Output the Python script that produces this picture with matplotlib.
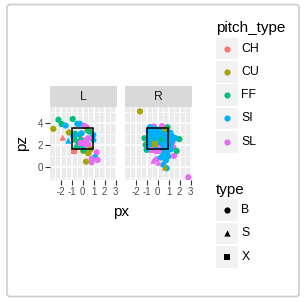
import matplotlib
matplotlib.use("Agg")
import matplotlib.pyplot as plt
from matplotlib.patches import Rectangle, FancyBboxPatch

plt.rcParams['font.family'] = ['Liberation Sans', 'DejaVu Sans']
plt.rcParams['axes.unicode_minus'] = False

# ---- data ----
pitch_types = ["CH", "CU", "FF", "SI", "SL"]
pitch_colors = ["#F8766D", "#A3A500", "#00BF7D", "#00B0F6", "#E76BF3"]
types = ["B", "S", "X"]
type_markers = ["o", "^", "s"]

# stand L
L_px = [-2.2, -2.67, -1.91, -1.55, -0.91, -1.25, -1.82, -1.31, -0.79, -0.7,
        0.05, 0.51, 0.30, 0.82, 1.27, 1.12, 1.36, 0.82, 0.96, 0.96,
        0.51, 0.21, -0.05, -0.31, -0.55, 0.60, 0.45, -0.49, -0.25, 0.15,
        0.35, 0.42, -0.40, -0.10, -0.70, -0.60, -0.85, -0.18, 0.51, 0.30,
        -0.20, 0.00, -0.40, 0.70, 0.10]
L_pz = [4.27, 3.45, 3.88, 3.75, 4.34, 3.12, 2.66, 2.39, 1.39, 2.55,
        1.45, 1.24, 0.48, 0.43, 1.33, 0.88, 0.64, 0.73, 2.90, 2.45,
        2.60, 2.39, 2.45, 2.00, 1.79, 3.21, 3.40, 3.91, 3.91, 3.73,
        3.60, 3.36, 2.97, 3.05, 3.00, 2.50, 2.80, 2.20, 2.00, 2.10,
        2.70, 2.00, 2.25, 1.60, 1.55]
L_pitch = ("FF CU FF SI FF CU CH SI CH FF "
           "CU CU CU SL SL SI SL SL SI SI "
           "SL SL SL FF FF FF FF SI SI SL "
           "SL CU SI SI FF FF SI SL SL SL "
           "FF SI FF CU FF").split()
L_type = ("B B B B B B S S X S "
          "B B B B B B B B B B "
          "B B B B B B S B B B "
          "B B S B B S B X B X "
          "S B B B B").split()

# stand R
R_px = [-1.61, -1.09, -1.20, -0.55, -0.09, 0.20, 0.51, 0.75, 0.85, 1.42,
        1.48, 1.73, 1.97, 1.57, 1.30, 1.15, 1.35, -0.40, -0.09, 0.06,
        0.30, 0.66, 0.82, 2.78, -0.25, 0.60, 0.30, 0.70, -0.34, -0.60,
        -0.80, -0.50, -0.20, 0.10, 0.40, 0.70, -0.70, -0.30, 0.00, 0.30,
        0.60, 0.80, -0.80, -0.50, -0.10, 0.20, 0.50, -0.60, -0.20, 0.10,
        0.45, -1.00, 1.00, 1.10, 0.90, 0.40, -0.90, 0.00, 0.30, -0.40,
        0.65, 0.20, -0.70, 1.20, 0.95,
        -0.75, -0.45, -0.15, 0.15, 0.45, 0.75, -0.75, -0.45, -0.15, 0.15,
        0.45, 0.75, -0.60, -0.30, 0.55, 1.05, 1.25, 0.85, 1.60, 0.50,
        0.75]
R_pz = [5.03, 2.00, 2.60, 1.55, 1.39, 1.50, 1.09, 1.30, 1.45, 1.79,
        1.00, 1.45, 2.52, 2.60, 2.80, 3.10, 2.30, 0.57, 0.70, 0.39,
        0.85, -0.03, -0.12, -0.94, 2.09, 3.21, 2.60, 2.90, 3.67, 3.55,
        3.30, 3.40, 3.45, 3.35, 3.45, 3.30, 2.90, 3.00, 2.95, 3.05,
        2.70, 2.40, 2.40, 2.55, 2.45, 2.30, 2.20, 2.00, 1.95, 2.05,
        1.90, 1.55, 1.90, 2.00, 3.60, 3.70, 1.70, 1.75, 2.35, 2.75,
        3.50, 2.75, 3.60, 1.60, 0.95,
        3.10, 2.80, 3.15, 2.85, 3.00, 2.65, 2.15, 2.00, 2.25, 2.55,
        2.45, 1.85, 1.75, 1.70, 1.65, 2.55, 2.20, 1.20, 2.60, 0.20,
        0.60]
R_pitch = ("CU FF FF SL SL SL SI SI SI SL "
           "SL FF FF SI SI SI SL SL SL SL "
           "SI CU SI SL CU CU FF SI SL SL "
           "SI SI SI SI SI SI SI SI SI SI "
           "SI SI SI SI SI SI SI SI SI SI "
           "SI FF SI SI FF SL SI SL SI FF "
           "CU SI SI SI SI "
           "SI SI SI SI SI SI SI SI SI SI "
           "SI SI SI SI SI SI SI SI SI SI "
           "SI").split()
R_type = ("B B B X X B B B B B "
          "B B B B B B B S B S "
          "B S B B X B S B B B "
          "B B B B B B B B B B "
          "B B B B B B B B B B "
          "B B B B B B B B B B "
          "S B B B B "
          "B B B B B B B B B B "
          "B B B B B B B B B B "
          "B").split()

panels = [("L", L_px, L_pz, L_pitch, L_type),
          ("R", R_px, R_pz, R_pitch, R_type)]

# strike zone
zone_x = [-0.95, 0.95]
zone_z = [1.6, 3.5]

# ---- figure ----
W, H = 305, 302
fig = plt.figure(figsize=(W / 100, H / 100), dpi=100)

bg = fig.add_axes([0, 0, 1, 1], zorder=-5)
bg.set_xlim(0, W)
bg.set_ylim(H, 0)
bg.axis("off")
bg.add_patch(FancyBboxPatch((7, 4.5), 292, 292, boxstyle="round,pad=0,rounding_size=3",
                            fc="white", ec="#CCCCCC", lw=1.2))

text_col = "#4D4D4D"
panel_left = [50, 125]
pw, ptop, pbot = 67, 107, 180
strip_h = 21

for (name, px, pz, pitch, typ), x0 in zip(panels, panel_left):
    ax = fig.add_axes([x0 / W, 1 - pbot / H, pw / W, (pbot - ptop) / H])
    ax.set_facecolor("#EBEBEB")
    for s in ax.spines.values():
        s.set_visible(False)
    ax.set_xlim(-2.97, 3.12)
    ax.set_ylim(-1.18, 5.43)
    ax.set_xticks([-2, -1, 0, 1, 2, 3])
    ax.set_yticks([0, 2, 4])
    ax.set_xticks([-2.5, -1.5, -0.5, 0.5, 1.5, 2.5], minor=True)
    ax.set_yticks([-1, 1, 3, 5], minor=True)
    ax.grid(True, which="major", color="white", lw=1.1)
    ax.grid(True, which="minor", color="white", lw=0.55)
    ax.set_axisbelow(True)
    ax.tick_params(which="major", length=3.5, width=0.8, color="#333333",
                   labelsize=7, labelcolor=text_col, pad=1.5)
    ax.tick_params(which="minor", length=0)
    if name != "L":
        ax.set_yticklabels([])
        ax.tick_params(axis="y", which="major", length=0)

    for t, m in zip(types, type_markers):
        xs = [x for x, tt in zip(px, typ) if tt == t]
        ys = [y for y, tt in zip(pz, typ) if tt == t]
        cs = [pitch_colors[pitch_types.index(p)] for p, tt in zip(pitch, typ) if tt == t]
        ax.scatter(xs, ys, c=cs, marker=m, s=20 if m != "s" else 17,
                   linewidths=0, zorder=3)

    ax.add_patch(Rectangle((zone_x[0], zone_z[0]), zone_x[1] - zone_x[0],
                           zone_z[1] - zone_z[0], fill=False, ec="black",
                           lw=1.1, zorder=4))

    # facet strip
    bg.add_patch(Rectangle((x0, ptop - strip_h), pw, strip_h, fc="#D9D9D9", ec="none"))
    bg.text(x0 + pw / 2, ptop - strip_h / 2, name, ha="center", va="center",
            fontsize=8.8, color="#1A1A1A")

fig.text(121 / W, 1 - 212 / H, "px", ha="center", va="center", fontsize=11)
fig.text(22 / W, 1 - 143 / H, "pz", ha="center", va="center", fontsize=11, rotation=90)

# legends
key_x, key_w, key_h, step = 216, 21.7, 21.7, 23.3
bg.text(key_x, 28, "pitch_type", ha="left", va="center", fontsize=11)
for i, (lab, col) in enumerate(zip(pitch_types, pitch_colors)):
    top = 37.7 + i * step
    bg.add_patch(Rectangle((key_x, top), key_w, key_h, fc="#F2F2F2", ec="none"))
    bg.scatter([key_x + key_w / 2], [top + key_h / 2], c=col, s=20, linewidths=0)
    bg.text(key_x + 25.5, top + key_h / 2, lab, ha="left", va="center", fontsize=8.8)

bg.text(key_x, 190, "type", ha="left", va="center", fontsize=11)
for i, (lab, m) in enumerate(zip(types, type_markers)):
    top = 199.3 + i * step
    bg.add_patch(Rectangle((key_x, top), key_w, key_h, fc="#F2F2F2", ec="none"))
    bg.scatter([key_x + key_w / 2], [top + key_h / 2], c="black", marker=m,
               s=20 if m != "s" else 17, linewidths=0)
    bg.text(key_x + 25.5, top + key_h / 2, lab, ha="left", va="center", fontsize=8.8)

fig.savefig("out.png", dpi=100)
